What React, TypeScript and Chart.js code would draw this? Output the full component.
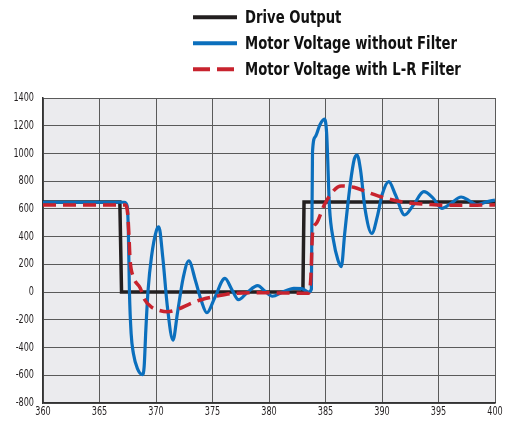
import React, { useEffect, useRef } from "react";
import { Chart, registerables } from "chart.js";

Chart.register(...registerables);

// ---- data ----
const seriesNames = [
  "Drive Output",
  "Motor Voltage without Filter",
  "Motor Voltage with L-R Filter",
];

const xTicks = [360, 365, 370, 375, 380, 385, 390, 395, 400];
const yTicks = [-800, -600, -400, -200, 0, 200, 400, 600, 800, 1000, 1200, 1400];

const driveX = [360, 366.8, 366.95, 383.0, 383.1, 400];
const driveY = [650, 650, 0, 0, 650, 650];

const noFilterX = [
  360, 367.2, 367.45, 367.55, 367.65, 367.8, 368.0, 368.35, 368.8, 368.95, 369.1, 369.3,
  369.6, 370.05, 370.25, 370.6, 371.0, 371.5, 371.9, 372.4, 372.9, 373.5, 374.0, 374.5,
  375.2, 376.1, 376.7, 377.3, 378.1, 379.0, 379.6, 380.3, 381.2, 382.2, 382.9, 383.5,
  383.75, 383.85, 384.1, 384.5, 384.9, 385.1, 385.35, 385.7, 386.1, 386.4, 386.7, 387.2,
  387.55, 387.8, 388.1, 388.5, 389.1, 389.6, 390.0, 390.6, 391.2, 392.0, 392.8, 393.7,
  394.5, 395.3, 396.1, 397.0, 397.7, 398.4, 399.2, 400,
];
const noFilterY = [
  648, 648, 620, 450, 0, -300, -443, -550, -595, -540, -274, 14,
  255, 448, 471, 250, -100, -347, -150, 100, 226, 80, -60, -149,
  -40, 99, 20, -55, 0, 46, 10, -30, 0, 27, 25, 0,
  20, 1013, 1121, 1206, 1247, 1146, 616, 375, 231, 183, 424, 785,
  960, 989, 880, 600, 424, 550, 700, 797, 700, 556, 630, 724,
  680, 604, 640, 686, 660, 630, 650, 664,
];

const lrFilterX = [
  360, 367.3, 367.5, 367.6, 367.7, 368.0, 368.6, 369.0, 369.6, 370.3, 371.0, 372.0,
  373.0, 374.0, 375.4, 376.8, 379.2, 383.5, 383.7, 383.85, 384.2, 384.9, 385.7, 386.4,
  387.5, 388.6, 390.4, 392.2, 394.0, 395.7, 400,
];
const lrFilterY = [
  628, 628, 560, 420, 240, 110, 30, -55, -108, -132, -142, -122,
  -85, -55, -29, -10, -5, -8, 100, 420, 496, 630, 730, 765,
  756, 724, 676, 645, 633, 626, 628,
];

const colors = ["#231f20", "#0b6fbd", "#c8232e"];

const toPoints = (xs: number[], ys: number[]) => xs.map((x, i) => ({ x, y: ys[i] }));

const FONT = "'DejaVu Sans Condensed', 'Liberation Sans', sans-serif";
const TICK_SQUEEZE = 0.75;

const bgPlugin = {
  id: "plotBg",
  beforeDraw(chart: any) {
    const { ctx, chartArea } = chart;
    ctx.save();
    ctx.fillStyle = "#fff";
    ctx.fillRect(0, 0, chart.width, chart.height);
    ctx.fillStyle = "#ebebee";
    ctx.fillRect(chartArea.left, chartArea.top, chartArea.right - chartArea.left, chartArea.bottom - chartArea.top);
    ctx.restore();
  },
};

// narrow the tick label glyphs (condensed look) while Chart.js draws them
const condenseTicksPlugin = {
  id: "condenseTicks",
  beforeDraw(chart: any) {
    Object.values(chart.scales).forEach((scale: any) => {
      if (scale.__condensed) return;
      scale.__condensed = true;
      const orig = scale.drawLabels.bind(scale);
      scale.drawLabels = (area: any) => {
        const ctx = scale.ctx;
        const origFill = ctx.fillText;
        ctx.fillText = function (t: string, x: number, y: number) {
          return origFill.call(this, t, x, y, this.measureText(t).width * TICK_SQUEEZE);
        };
        try {
          orig(area);
        } finally {
          delete ctx.fillText;
        }
      };
    });
  },
};

const legendPlugin = {
  id: "customLegend",
  afterDraw(chart: any) {
    const { ctx } = chart;
    const rows = [17.3, 43.3, 69.3];
    const dashes = [[], [], [17, 7]];
    ctx.save();
    ctx.font = `bold 18px ${FONT}`;
    const squeeze = 212 / ctx.measureText(seriesNames[1]).width;
    seriesNames.forEach((name, i) => {
      ctx.beginPath();
      ctx.setLineDash(dashes[i]);
      ctx.strokeStyle = colors[i];
      ctx.lineWidth = 4;
      ctx.moveTo(193, rows[i]);
      ctx.lineTo(237, rows[i]);
      ctx.stroke();
      ctx.setLineDash([]);
      ctx.fillStyle = "#111";
      ctx.textBaseline = "alphabetic";
      ctx.textAlign = "left";
      ctx.fillText(name, 245, rows[i] + 5.8, ctx.measureText(name).width * squeeze);
    });
    ctx.restore();
  },
};

export default function App() {
  const ref = useRef<HTMLCanvasElement>(null);

  useEffect(() => {
    document.body.style.margin = "0";
    if (!ref.current) return;
    const chart = new Chart(ref.current, {
      type: "line",
      data: {
        datasets: [
          {
            label: seriesNames[0],
            data: toPoints(driveX, driveY),
            borderColor: colors[0],
            borderWidth: 3.5,
            pointRadius: 0,
            tension: 0,
            order: 3,
          },
          {
            label: seriesNames[1],
            data: toPoints(noFilterX, noFilterY),
            borderColor: colors[1],
            borderWidth: 3.2,
            pointRadius: 0,
            cubicInterpolationMode: "monotone",
            order: 2,
          },
          {
            label: seriesNames[2],
            data: toPoints(lrFilterX, lrFilterY),
            borderColor: colors[2],
            borderWidth: 3.5,
            borderDash: [13, 7],
            pointRadius: 0,
            cubicInterpolationMode: "monotone",
            order: 1,
          },
        ],
      },
      options: {
        animation: false,
        responsive: false,
        maintainAspectRatio: false,
        layout: { padding: { top: 98, right: 16, left: 0, bottom: 0 } },
        plugins: {
          legend: { display: false },
          tooltip: { enabled: false },
        },
        scales: {
          x: {
            type: "linear",
            min: 360,
            max: 400,
            afterBuildTicks: (axis: any) => {
              axis.ticks = xTicks.map((v) => ({ value: v }));
            },
            afterFit: (axis: any) => {
              axis.height = 21;
            },
            grid: { color: "#5a5a5a", lineWidth: 1, drawTicks: false },
            border: { color: "#333", width: 1.5 },
            ticks: {
              padding: 2,
              color: "#231f20",
              font: { family: FONT, size: 12 },
              maxRotation: 0,
              callback: (v: any) => String(v),
            },
          },
          y: {
            type: "linear",
            min: -800,
            max: 1400,
            afterBuildTicks: (axis: any) => {
              axis.ticks = yTicks.map((v) => ({ value: v }));
            },
            afterFit: (axis: any) => {
              axis.width = 43;
            },
            grid: { color: "#5a5a5a", lineWidth: 1, drawTicks: false },
            border: { color: "#333", width: 1.5 },
            ticks: {
              padding: 9,
              color: "#231f20",
              font: { family: FONT, size: 12 },
              callback: (v: any) => String(v),
            },
          },
        },
      },
      plugins: [bgPlugin, condenseTicksPlugin, legendPlugin],
    } as any);
    return () => chart.destroy();
  }, []);

  return (
    <div style={{ width: 511, height: 424 }}>
      <canvas ref={ref} width={511} height={424} />
    </div>
  );
}
